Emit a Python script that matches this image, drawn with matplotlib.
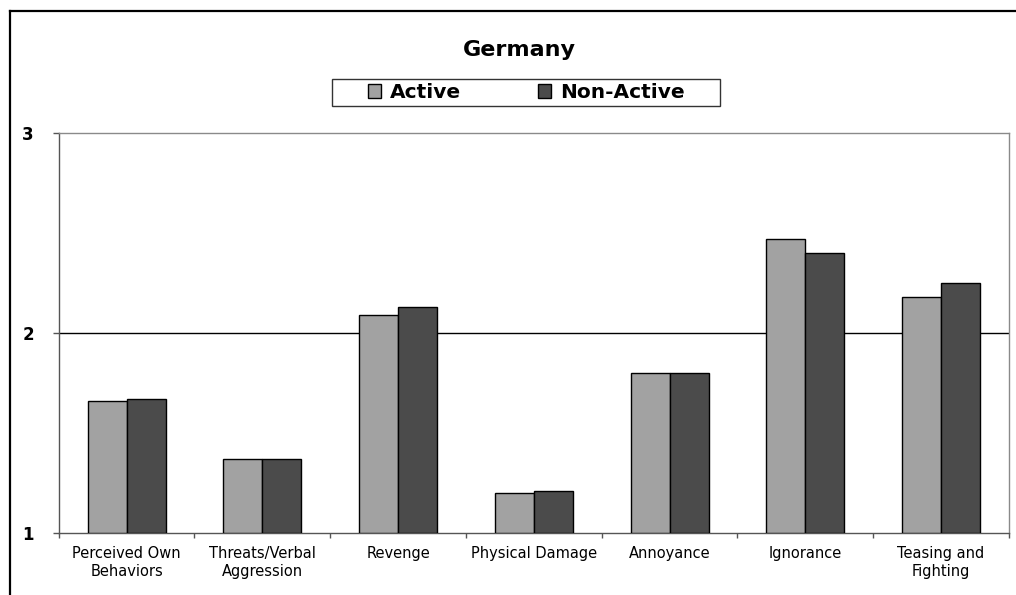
import matplotlib
matplotlib.use("Agg")
import matplotlib.pyplot as plt
from matplotlib.patches import Rectangle
from matplotlib.lines import Line2D
import numpy as np

plt.rcParams['font.family'] = ['DejaVu Sans']

# Data
title = "Germany"
categories = ["Perceived Own\nBehaviors", "Threats/Verbal\nAggression", "Revenge",
              "Physical Damage", "Annoyance", "Ignorance", "Teasing and\nFighting"]
series_names = ["Active", "Non-Active"]
active = [1.66, 1.37, 2.09, 1.20, 1.80, 2.47, 2.18]
non_active = [1.67, 1.37, 2.13, 1.21, 1.80, 2.40, 2.25]
y_ticks = [1, 2, 3]

colors = ["#a2a2a2", "#4b4b4b"]

W, H = 1016, 595
fig = plt.figure(figsize=(W / 100, H / 100), dpi=100)

def fx(px):
    return px / W

def fy(py):
    return 1 - py / H

ax = fig.add_axes([fx(58.7), fy(533.3), fx(1009) - fx(58.7), fy(133.3) - fy(533.3)])

x = np.arange(len(categories))
bw = 0.287
ax.bar(x - bw / 2, np.array(active) - 1, bw, bottom=1, color=colors[0],
       edgecolor="black", linewidth=1.0, zorder=3, label=series_names[0])
ax.bar(x + bw / 2, np.array(non_active) - 1, bw, bottom=1, color=colors[1],
       edgecolor="black", linewidth=1.0, zorder=3, label=series_names[1])

ax.set_xlim(-0.5, len(categories) - 0.5)
ax.set_ylim(1, 3)

# horizontal gridline at 2
ax.axhline(2, color="black", linewidth=1.0, zorder=1)

# spines
for s in ["top", "right"]:
    ax.spines[s].set_color("#8a8a8a")
    ax.spines[s].set_linewidth(1.0)
for s in ["left", "bottom"]:
    ax.spines[s].set_color("#555555")
    ax.spines[s].set_linewidth(1.0)

ax.set_yticks(y_ticks)
ax.set_yticklabels([str(v) for v in y_ticks], fontsize=12, fontweight="bold")
ax.tick_params(axis="y", direction="out", length=4.3, width=1.0, color="#555555", pad=13.5)

ax.set_xticks(x)
ax.set_xticklabels(categories, fontsize=10.5, linespacing=1.25)
ax.tick_params(axis="x", which="major", length=0, pad=9.5)
ax.set_xticks(np.arange(-0.5, len(categories)), minor=True)
ax.tick_params(axis="x", which="minor", direction="out", length=3.6, width=1.0, color="#555555")

# title
fig.text(fx(519), fy(56), title, ha="center", va="baseline", fontsize=16, fontweight="bold")

# legend
handles = [Rectangle((0, 0), 1, 1, facecolor=c, edgecolor="black", linewidth=1.0) for c in colors]
fig.legend(handles, series_names, loc="center", bbox_to_anchor=(fx(526.5), fy(92.5)),
           ncol=2, frameon=False, prop={"weight": "bold", "size": 14.5},
           handlelength=0.65, handleheight=0.65, handletextpad=0.45, columnspacing=3.8,
           borderpad=0, borderaxespad=0)
fig.add_artist(Rectangle((fx(332), fy(105.7)), fx(720) - fx(332), fy(79.3) - fy(105.7),
                         transform=fig.transFigure, fill=False, edgecolor="#333333", linewidth=1.0))

# outer chart border
fig.add_artist(Line2D([fx(10), fx(10)], [fy(11), fy(595)], transform=fig.transFigure,
                      color="black", linewidth=1.6))
fig.add_artist(Line2D([fx(10), fx(1016)], [fy(11), fy(11)], transform=fig.transFigure,
                      color="black", linewidth=1.6))

fig.savefig("out.png", dpi=100, facecolor="white")
